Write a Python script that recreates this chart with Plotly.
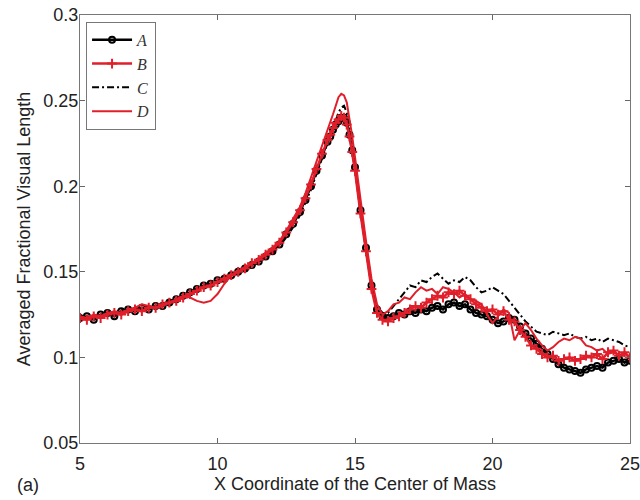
import plotly.graph_objects as go

X = [5.0, 5.25, 5.5, 5.75, 6.0, 6.25, 6.5, 6.75, 7.0, 7.25, 7.5, 7.75, 8.0, 8.25, 8.5, 8.75,
     9.0, 9.25, 9.5, 9.75, 10.0, 10.25, 10.5, 10.75, 11.0, 11.25, 11.5, 11.75, 12.0, 12.25, 12.5, 12.75,
     13.0, 13.2, 13.4, 13.6, 13.8, 14.0, 14.1, 14.2, 14.3, 14.4, 14.5, 14.6, 14.7, 14.8, 14.9, 15.0,
     15.2, 15.4, 15.6, 15.8, 16.0, 16.2, 16.4,
     16.6, 16.8, 17.0, 17.2, 17.4, 17.6, 17.8, 18.0, 18.2, 18.4, 18.6, 18.8, 19.0, 19.2, 19.4, 19.6,
     19.8, 20.0, 20.2, 20.4, 20.6, 20.8, 21.0, 21.2, 21.4, 21.6, 21.8, 22.0, 22.2, 22.4, 22.6, 22.8,
     23.0, 23.2, 23.4, 23.6, 23.8, 24.0, 24.2, 24.4, 24.6, 24.8, 25.0]

A = [0.123, 0.124, 0.122, 0.125, 0.126, 0.124, 0.127, 0.128, 0.127, 0.129, 0.128, 0.130, 0.130, 0.132, 0.134, 0.136,
     0.138, 0.140, 0.142, 0.143, 0.145, 0.146, 0.148, 0.150, 0.152, 0.154, 0.156, 0.159, 0.162, 0.166, 0.172, 0.178,
     0.185, 0.192, 0.200, 0.209, 0.218, 0.226, 0.229, 0.233, 0.236, 0.238, 0.240, 0.240, 0.237, 0.230, 0.221, 0.211,
     0.186, 0.164, 0.142, 0.128, 0.124, 0.123, 0.124,
     0.126, 0.125, 0.127, 0.126, 0.128, 0.127, 0.129, 0.130, 0.128, 0.131, 0.132, 0.130, 0.131, 0.128, 0.126, 0.125,
     0.124, 0.122, 0.120, 0.121, 0.123, 0.122, 0.118, 0.114, 0.111, 0.108, 0.105, 0.102, 0.099, 0.096, 0.094, 0.093,
     0.092, 0.091, 0.093, 0.094, 0.095, 0.094, 0.097, 0.098, 0.099, 0.097, 0.098]

B = [0.123, 0.122, 0.124, 0.123, 0.125, 0.126, 0.125, 0.127, 0.128, 0.127, 0.129, 0.129, 0.131, 0.132, 0.133, 0.135,
     0.137, 0.139, 0.141, 0.142, 0.144, 0.146, 0.148, 0.150, 0.152, 0.155, 0.157, 0.160, 0.163, 0.167, 0.173, 0.179,
     0.186, 0.193, 0.201, 0.210, 0.219, 0.227, 0.230, 0.234, 0.237, 0.239, 0.241, 0.240, 0.236, 0.229, 0.220, 0.209,
     0.184, 0.162, 0.140, 0.126, 0.122, 0.121, 0.123,
     0.124, 0.126, 0.128, 0.130, 0.129, 0.132, 0.134, 0.136, 0.135, 0.138, 0.137, 0.139, 0.136, 0.134, 0.131, 0.129,
     0.127, 0.128, 0.125, 0.127, 0.122, 0.121, 0.116, 0.112, 0.107, 0.105, 0.102, 0.100, 0.101, 0.098, 0.099, 0.100,
     0.098, 0.099, 0.101, 0.100, 0.102, 0.099, 0.103, 0.104, 0.101, 0.103, 0.100]

C = [0.124, 0.123, 0.125, 0.124, 0.127, 0.126, 0.128, 0.127, 0.129, 0.128, 0.130, 0.129, 0.131, 0.133, 0.134, 0.136,
     0.138, 0.140, 0.141, 0.143, 0.145, 0.146, 0.148, 0.149, 0.151, 0.153, 0.156, 0.158, 0.161, 0.165, 0.170, 0.176,
     0.183, 0.190, 0.198, 0.207, 0.216, 0.225, 0.229, 0.234, 0.239, 0.243, 0.246, 0.247, 0.243, 0.234, 0.223, 0.212,
     0.187, 0.165, 0.143, 0.130, 0.126, 0.126, 0.130,
     0.134, 0.138, 0.142, 0.141, 0.145, 0.144, 0.147, 0.149, 0.146, 0.143, 0.145, 0.144, 0.147, 0.145, 0.141, 0.138,
     0.139, 0.141, 0.139, 0.137, 0.133, 0.129, 0.125, 0.121, 0.118, 0.115, 0.114, 0.113, 0.115, 0.114, 0.113, 0.114,
     0.112, 0.111, 0.112, 0.110, 0.111, 0.109, 0.111, 0.110, 0.109, 0.107, 0.106]

D = [0.124, 0.123, 0.125, 0.124, 0.126, 0.127, 0.126, 0.128, 0.129, 0.131, 0.130, 0.129, 0.130, 0.132, 0.134, 0.136,
     0.135, 0.133, 0.132, 0.133, 0.137, 0.143, 0.148, 0.150, 0.153, 0.155, 0.158, 0.161, 0.164, 0.168, 0.174, 0.181,
     0.188, 0.196, 0.205, 0.214, 0.223, 0.232, 0.237, 0.242, 0.247, 0.252, 0.254, 0.253, 0.249, 0.240, 0.229, 0.217,
     0.192, 0.168, 0.146, 0.131, 0.125, 0.127, 0.131,
     0.132, 0.135, 0.134, 0.138, 0.141, 0.139, 0.140, 0.137, 0.141, 0.140, 0.138, 0.135, 0.137, 0.134, 0.133, 0.131,
     0.125, 0.120, 0.124, 0.128, 0.126, 0.110, 0.116, 0.120, 0.116, 0.111, 0.107, 0.104, 0.106, 0.109, 0.111, 0.110,
     0.112, 0.111, 0.107, 0.106, 0.104, 0.105, 0.102, 0.103, 0.101, 0.102, 0.100]

X_TICKS = [5, 10, 15, 20, 25]
Y_TICKS = [0.05, 0.1, 0.15, 0.2, 0.25, 0.3]
Y_TICK_LABELS = ["0.05", "0.1", "0.15", "0.2", "0.25", "0.3"]

RED = "#e01f2b"
BLACK = "#000000"

fig = go.Figure()
fig.add_trace(go.Scatter(x=X, y=A, name="A", mode="lines+markers", legendrank=1,
                         line=dict(color=BLACK, width=2.5),
                         marker=dict(symbol="circle-open", size=6, color=BLACK, line=dict(width=2))))
fig.add_trace(go.Scatter(x=X, y=C, name="C", mode="lines", legendrank=3,
                         line=dict(color=BLACK, width=2, dash="7px,3px,2px,3px")))
fig.add_trace(go.Scatter(x=X, y=B, name="B", mode="lines+markers", legendrank=2,
                         line=dict(color=RED, width=2.5),
                         marker=dict(symbol="cross-thin-open", size=7, color=RED, line=dict(width=2, color=RED))))
fig.add_trace(go.Scatter(x=X, y=D, name="D", mode="lines", legendrank=4,
                         line=dict(color=RED, width=2)))

fig.update_layout(
    width=640, height=500,
    margin=dict(l=80, r=10, t=15, b=57),
    paper_bgcolor="white", plot_bgcolor="white",
    font=dict(family="Liberation Sans, Arial, sans-serif", size=18, color="#222"),
    showlegend=True,
    legend=dict(x=0.011, y=0.984, xanchor="left", yanchor="top",
                bgcolor="white", bordercolor="#777", borderwidth=1,
                font=dict(family="Liberation Serif, Times New Roman, serif", size=16, color="#333", style="italic"),
                itemwidth=40, tracegroupgap=0),
    xaxis=dict(range=[5, 25], tickvals=X_TICKS, ticks="inside", ticklen=5, tickcolor="#666",
               showline=True, linecolor="#777", linewidth=1, mirror="ticks", showgrid=False, zeroline=False,
               automargin=False, ticklabelstandoff=4, ticklabeloverflow="allow",
               title=dict(text="X Coordinate of the Center of Mass", standoff=2,
                          font=dict(size=18))),
    yaxis=dict(range=[0.05, 0.3], tickvals=Y_TICKS, ticktext=Y_TICK_LABELS, ticks="inside", ticklen=5,
               tickcolor="#666", showline=True, linecolor="#777", linewidth=1, mirror="ticks",
               showgrid=False, zeroline=False, automargin=False, ticklabelstandoff=-3,
               ticklabeloverflow="allow",
               title=dict(text="Averaged Fractional Visual Length", standoff=8,
                          font=dict(size=18))),
    annotations=[dict(text="(a)", xref="paper", yref="paper", x=-0.094, y=-0.098,
                      xanchor="center", yanchor="middle", showarrow=False, font=dict(size=18))],
)

fig.write_html("out.html")
